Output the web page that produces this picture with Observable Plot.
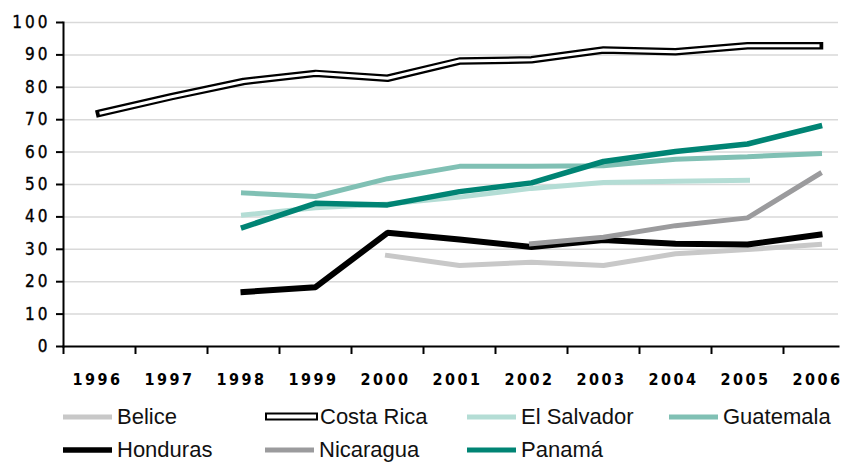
<!DOCTYPE html>
<html><head><meta charset="utf-8">
<script src="https://cdn.jsdelivr.net/npm/d3@7"></script>
<script src="https://cdn.jsdelivr.net/npm/@observablehq/plot@0.6"></script>
<style>
body{margin:0;background:#fff;}
#wrap{position:relative;width:851px;height:462px;overflow:hidden;background:#fff;}
#legend{position:absolute;left:63px;top:400px;display:grid;grid-template-columns:repeat(4,202px);grid-auto-rows:33px;font-family:"Liberation Sans",Arial,sans-serif;font-size:22px;color:#111;}
.item{display:flex;align-items:center;height:33px;}
.item svg{flex:none;margin-right:0;}
g[aria-label="y-axis tick label"] text{letter-spacing:3px;stroke:#000;stroke-width:0.35px;}
g[aria-label="x-axis tick label"] text{letter-spacing:2.5px;}
</style></head><body><div id="wrap"><div id="chart"></div><div id="legend"></div></div>
<script>
const years = [1996,1997,1998,1999,2000,2001,2002,2003,2004,2005,2006];
const belice     = [null,null,null,null,28.1,25.0,26.0,25.0,28.6,29.9,31.5];
const costaRica  = [72.0,77.1,81.8,84.3,82.8,88.1,88.5,91.5,91.0,92.8,92.8];
const elSalvador = [null,null,40.6,42.8,44.0,46.1,48.8,50.6,51.0,51.3,null];
const guatemala  = [null,null,47.4,46.3,51.8,55.6,55.6,55.8,57.8,58.6,59.5];
const honduras   = [null,null,16.8,18.3,35.1,33.0,30.7,32.9,31.7,31.5,34.5];
const nicaragua  = [null,null,null,null,null,null,31.7,33.7,37.3,39.7,53.3];
const panama     = [null,null,36.8,44.2,43.7,47.8,50.5,57.1,60.2,62.5,68.0];
const countries  = ["Belice","Costa Rica","El Salvador","Guatemala","Honduras","Nicaragua","Panamá"];
const yTicks     = [0,10,20,30,40,50,60,70,80,90,100];

const valuesByCountry = [belice, costaRica, elSalvador, guatemala, honduras, nicaragua, panama];
const colors = {"Belice":"#c8c8c8","Costa Rica":"#000000","El Salvador":"#b4ddd5","Guatemala":"#80c0b4","Honduras":"#000000","Nicaragua":"#9b9b9d","Panamá":"#008474"};
const widths = {"Belice":5,"Costa Rica":7.5,"El Salvador":5,"Guatemala":5,"Honduras":6,"Nicaragua":5,"Panamá":5.5};

const rows = countries.map((c, k) => years.map((yr, i) => ({country: c, year: yr, value: valuesByCountry[k][i]})).filter(d => d.value != null));

const boundaries = years.map(y => y - 0.5);
const lineMarks = [];
countries.forEach((c, k) => {
  if (c === "Costa Rica") {
    lineMarks.push(Plot.line(rows[k], {x: "year", y: "value", stroke: "#000", strokeWidth: 7.5, strokeLinecap: "square", strokeLinejoin: "miter"}));
    lineMarks.push(Plot.line(rows[k], {x: "year", y: "value", stroke: "#fff", strokeWidth: 3, strokeLinecap: "butt", strokeLinejoin: "miter"}));
  } else {
    lineMarks.push(Plot.line(rows[k], {x: "year", y: "value", stroke: colors[c], strokeWidth: widths[c], strokeLinecap: "square", strokeLinejoin: "miter"}));
  }
});

const chart = Plot.plot({
  width: 851,
  height: 395,
  marginLeft: 63,
  marginRight: 13,
  marginTop: 22,
  marginBottom: 49,
  style: {background: "#fff", overflow: "hidden"},
  x: {type: "linear", domain: [1995.5, 2006.5], range: [63, 855], label: null},
  y: {domain: [0, 100], label: null},
  marks: [
    Plot.gridY(yTicks.slice(1), {stroke: "#d9d9d9", strokeOpacity: 1, strokeWidth: 1.5}),
    Plot.axisY(yTicks, {tickSize: 7, strokeWidth: 2, stroke: "#000", tickFormat: () => "", label: null}),
    Plot.axisY(yTicks, {tickSize: 0, tickPadding: 13, tickFormat: d => String(d), fontSize: 17, fontFamily: "DejaVu Sans Condensed", fill: "#000", label: null}),
    Plot.axisX(boundaries, {tickSize: 8, strokeWidth: 2, stroke: "#000", tickFormat: () => "", label: null}),
    Plot.axisX(years, {tickSize: 0, tickPadding: 27, tickFormat: d => String(d), fontSize: 16, fontWeight: "bold", fontFamily: "DejaVu Sans Condensed", fill: "#000", dx: -2, label: null}),
    ...lineMarks,
    Plot.frame({anchor: "left", stroke: "#000", strokeWidth: 2}),
    Plot.frame({anchor: "bottom", stroke: "#000", strokeWidth: 2})
  ]
});
document.getElementById("chart").appendChild(chart);

const legend = d3.select("#legend");
countries.forEach(c => {
  const it = legend.append("div").attr("class", "item");
  const s = it.append("svg").attr("width", c === "Costa Rica" ? 55 : 54).attr("height", 10);
  if (c === "Costa Rica") {
    s.append("rect").attr("x", 1).attr("y", 1.5).attr("width", 51).attr("height", 6).attr("fill", "#fff").attr("stroke", "#000").attr("stroke-width", 2);
  } else {
    s.append("line").attr("x1", 0).attr("x2", 49).attr("y1", 5).attr("y2", 5).attr("stroke", colors[c]).attr("stroke-width", c === "Honduras" ? 5.5 : 5);
  }
  it.append("span").text(c);
});
</script></body></html>
